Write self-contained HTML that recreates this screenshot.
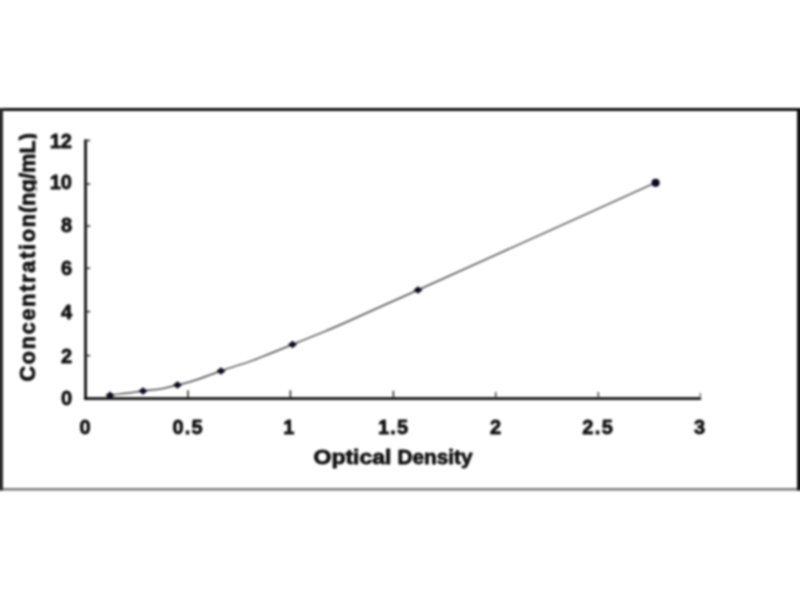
<!DOCTYPE html>
<html>
<head>
<meta charset="utf-8">
<title>Standard Curve</title>
<style>
html,body{margin:0;padding:0;background:#fff;}
body{width:800px;height:600px;overflow:hidden;position:relative;font-family:"Liberation Sans",sans-serif;}
svg{position:absolute;left:0;top:0;display:block;}
text{font-family:"Liberation Sans",sans-serif;font-weight:bold;fill:#111;stroke:#111;stroke-width:0.8px;stroke-linejoin:round;}
#chart{filter:blur(0.85px);}
</style>
</head>
<body>
<svg width="800" height="600" viewBox="0 0 800 600">
  <rect x="0" y="0" width="800" height="600" fill="#ffffff"/>
  <g id="chart">
  <!-- frame -->
  <rect x="-2" y="108" width="804" height="3" fill="#111"/>
  <rect x="-2" y="108" width="5" height="382.6" fill="#2a2a2a"/>
  <rect x="797" y="108" width="5" height="382.6" fill="#111"/>
  <rect x="3" y="488" width="794" height="2.6" fill="#808080"/>
  <!-- axes -->
  <rect x="84.2" y="139.4" width="2.7" height="260.5" fill="#0a0a0a"/>
  <rect x="84.2" y="397.2" width="616.9" height="2.7" fill="#0a0a0a"/>
  <!-- y ticks -->
  <g fill="#333">
    <rect x="86" y="139.7" width="4.2" height="1.6"/>
    <rect x="86" y="183.2" width="4.2" height="1.6"/>
    <rect x="86" y="225.2" width="4.2" height="1.6"/>
    <rect x="86" y="267.4" width="4.2" height="1.6"/>
    <rect x="86" y="310.8" width="4.2" height="1.6"/>
    <rect x="86" y="354.8" width="4.2" height="1.6"/>
  </g>
  <!-- x ticks -->
  <g>
    <rect x="187.25" y="390.3" width="1.5" height="7.7" fill="#222"/>
    <rect x="289.65" y="390.3" width="1.5" height="7.7" fill="#222"/>
    <rect x="392.65" y="390.8" width="1.5" height="7.2" fill="#2a2a2a"/>
    <rect x="494.95" y="392.0" width="1.5" height="6.0" fill="#444"/>
    <rect x="597.55" y="392.0" width="1.5" height="6.0" fill="#444"/>
    <rect x="699.55" y="393.0" width="1.5" height="5.0" fill="#777"/>
  </g>
  <!-- curve -->
  <path d="M110.0,395.0 C121.0,393.7 120.5,394.3 143.0,391.0 C165.5,387.7 151.5,391.7 177.5,385.0 C203.5,378.3 182.7,384.5 221.0,371.0 C259.3,357.5 226.8,371.5 292.5,344.5 C358.2,317.5 297.0,344.0 418.0,290.0 C539.0,236.0 576.4,218.4 655.6,182.6" fill="none" stroke="#4a4a4a" stroke-width="1.45"/>
  <!-- markers -->
  <g fill="#0c0c20">
    <path d="M110.0,391.5 l4.5,3.7 l-4.5,3.7 l-4.5,-3.7 z"/>
    <path d="M143.0,387.3 l4.5,3.7 l-4.5,3.7 l-4.5,-3.7 z"/>
    <path d="M177.5,381.3 l4.5,3.7 l-4.5,3.7 l-4.5,-3.7 z"/>
    <path d="M221.0,367.3 l4.5,3.7 l-4.5,3.7 l-4.5,-3.7 z"/>
    <path d="M292.5,340.8 l4.5,3.7 l-4.5,3.7 l-4.5,-3.7 z"/>
    <path d="M418.0,286.3 l4.5,3.7 l-4.5,3.7 l-4.5,-3.7 z"/>
    <circle cx="655.6" cy="182.8" r="4.1"/>
  </g>
  <!-- y labels -->
  <g font-size="20" text-anchor="end">
    <text x="72" y="147.8">12</text>
    <text x="72" y="189.2">10</text>
    <text x="72" y="232.1">8</text>
    <text x="72" y="275.3">6</text>
    <text x="72" y="319.1">4</text>
    <text x="72" y="363.3">2</text>
    <text x="72" y="405">0</text>
  </g>
  <!-- x labels -->
  <g font-size="20" text-anchor="middle">
    <text x="85" y="434">0</text>
    <text x="187.5" y="434" textLength="30" lengthAdjust="spacing">0.5</text>
    <text x="288.8" y="434">1</text>
    <text x="393" y="434" textLength="30" lengthAdjust="spacing">1.5</text>
    <text x="495.5" y="434">2</text>
    <text x="597.5" y="434" textLength="30.5" lengthAdjust="spacing">2.5</text>
    <text x="699.5" y="434">3</text>
  </g>
  <!-- x title -->
  <g font-size="20.5" style="stroke-width:1.05px">
    <text x="313.5" y="463.5" textLength="78" lengthAdjust="spacingAndGlyphs">Optical</text>
    <text x="397.5" y="463.5" textLength="75" lengthAdjust="spacingAndGlyphs">Density</text>
  </g>
  <!-- y title -->
  <clipPath id="ycl"><rect x="10" y="120" width="26.8" height="275"/></clipPath>
  <g font-size="21.5" style="stroke-width:1.1px" clip-path="url(#ycl)">
    <text transform="translate(35.1,381.5) rotate(-90)" textLength="167.5" lengthAdjust="spacing">Concentration</text>
    <text transform="translate(35.1,213) rotate(-90)" textLength="80" lengthAdjust="spacing">(ng/mL)</text>
  </g>
  </g>
</svg>
</body>
</html>
